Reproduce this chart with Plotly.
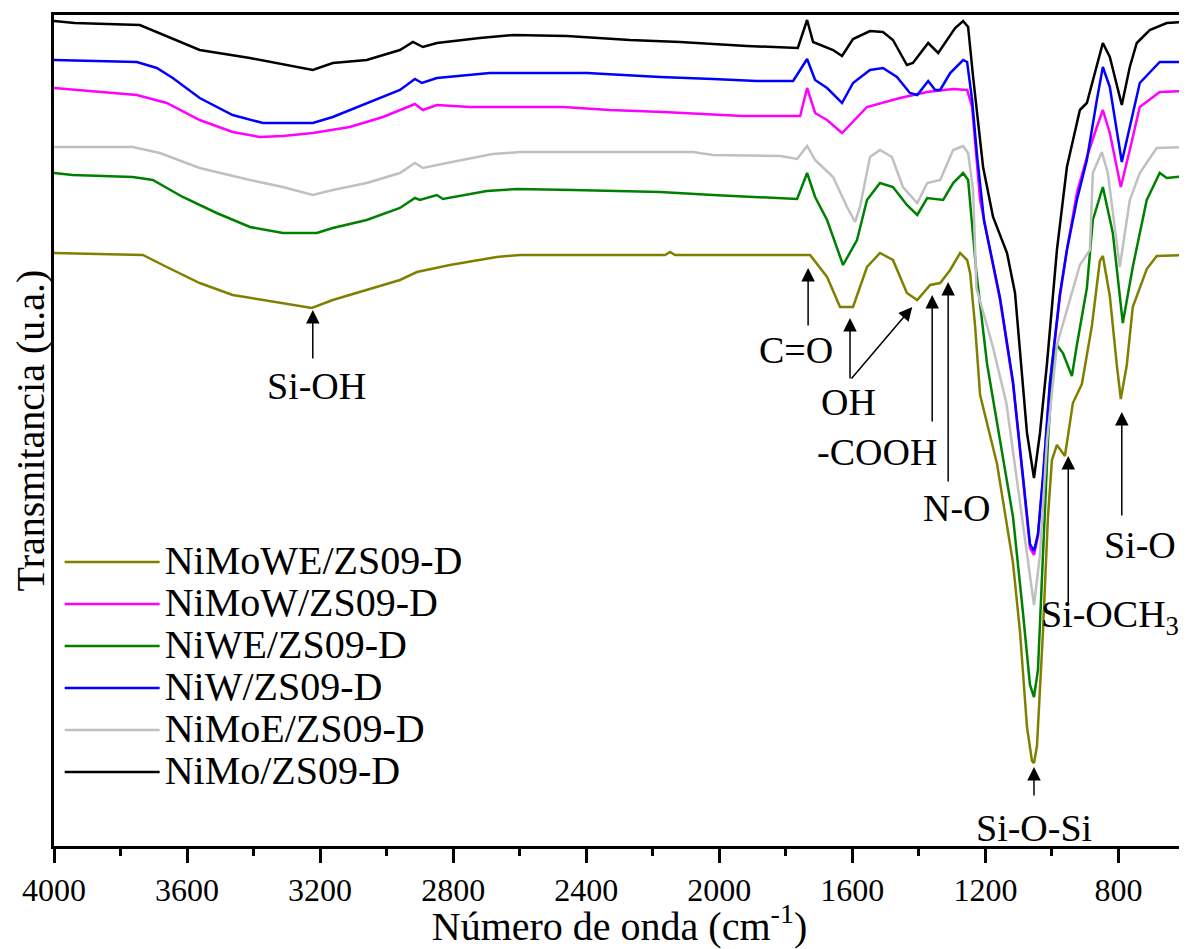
import plotly.graph_objects as go

# FTIR spectra, Transmitancia (u.a.) vs numero de onda (cm-1)
wn_nimowe = [4000, 3733, 3661, 3562, 3463, 3312, 3225, 3162, 3060, 2960, 2909, 2810, 2669, 2599, 2163, 2148, 2133, 1727,
             1676, 1637, 1598, 1556, 1517, 1478, 1436, 1405, 1366, 1336, 1306, 1276, 1255, 1246, 1231, 1216, 1165, 1117,
             1096, 1075, 1060, 1054, 1045, 1027, 1012, 1000, 985, 961, 937, 910, 880, 856, 847, 826, 805, 793, 775, 757,
             715, 685, 600]
t_nimowe = [593, 591, 579, 563, 551, 543, 538, 546, 556, 566, 574, 581, 589, 591, 591, 594, 591, 591,
            569, 539, 539, 579, 593, 586, 553, 546, 561, 563, 576, 593, 586, 573, 520, 451, 382, 283,
            214, 119, 85, 83, 100, 214, 329, 386, 401, 390, 443, 462, 520, 585, 590, 550, 481, 447, 481, 539,
            577, 590, 591]

wn_nimow = [4000, 3854, 3751, 3661, 3562, 3463, 3381, 3312, 3222, 3111, 3011, 2915, 2891, 2849, 2750, 2470, 2329, 2169,
            2037, 1929, 1757, 1736, 1712, 1676, 1631, 1586, 1556, 1457, 1375, 1297, 1255, 1240, 1216, 1156, 1117, 1087,
            1066, 1054, 1042, 1027, 1006, 976, 955, 925, 895, 865, 847, 826, 793, 766, 736, 676, 600]
t_nimow = [758, 754, 751, 743, 726, 714, 709, 710, 713, 719, 729, 742, 736, 741, 739, 739, 736, 734,
           732, 730, 730, 758, 733, 726, 713, 729, 739, 748, 754, 757, 756, 739, 646, 546, 462, 367,
           298, 291, 310, 367, 462, 550, 596, 653, 689, 719, 736, 713, 659, 696, 739, 754, 755]

wn_niwe = [4000, 3944, 3763, 3703, 3613, 3511, 3411, 3312, 3210, 3162, 3060, 2960, 2915, 2900, 2849, 2831, 2699, 2608,
           2440, 2178, 2019, 1766, 1736, 1712, 1676, 1628, 1586, 1556, 1517, 1478, 1436, 1405, 1375, 1327, 1297, 1267,
           1252, 1237, 1227, 1195, 1156, 1117, 1087, 1066, 1054, 1042, 1027, 1012, 997, 985, 967, 940, 925, 895, 877,
           847, 817, 787, 757, 715, 676, 655, 600]
t_niwe = [673, 671, 669, 666, 649, 633, 619, 613, 613, 618, 626, 638, 648, 646, 651, 647, 655, 657,
          656, 654, 651, 647, 673, 649, 626, 581, 606, 646, 663, 659, 641, 631, 648, 646, 663, 673,
          666, 613, 573, 482, 405, 329, 233, 161, 149, 176, 291, 405, 482, 501, 493, 470, 501, 558, 626,
          659, 613, 523, 579, 646, 673, 668, 670]

wn_niw = [4000, 3863, 3751, 3691, 3643, 3562, 3463, 3372, 3222, 3162, 3060, 2960, 2915, 2894, 2849, 2690, 2398, 2178,
          2019, 1887, 1778, 1736, 1712, 1676, 1631, 1598, 1547, 1508, 1466, 1427, 1405, 1372, 1351, 1336, 1306, 1267,
          1255, 1240, 1225, 1204, 1156, 1117, 1087, 1066, 1054, 1042, 1027, 1006, 976, 955, 925, 895, 865, 847, 826,
          790, 766, 736, 676, 600]
t_niw = [786, 785, 784, 778, 768, 748, 731, 723, 723, 729, 743, 756, 767, 763, 768, 773, 773, 769,
         767, 765, 765, 787, 766, 758, 743, 763, 776, 778, 769, 753, 751, 765, 756, 756, 773, 786,
         784, 746, 690, 625, 548, 464, 369, 302, 295, 312, 369, 464, 552, 596, 646, 686, 746, 779, 759,
         684, 719, 763, 784, 784]

wn_nimoe = [4000, 3763, 3682, 3562, 3411, 3312, 3222, 3162, 3060, 2960, 2915, 2891, 2819, 2681, 2599, 2079, 2019, 1817,
            1766, 1736, 1712, 1658, 1616, 1592, 1577, 1547, 1517, 1481, 1448, 1405, 1375, 1336, 1297, 1267, 1252, 1237,
            1227, 1179, 1137, 1089, 1054, 1036, 1015, 985, 916, 886, 877, 850, 832, 796, 766, 736, 685, 600]
t_nimoe = [699, 699, 693, 678, 666, 659, 651, 656, 663, 673, 683, 678, 683, 692, 694, 694, 691, 690,
           687, 700, 686, 669, 639, 624, 639, 689, 696, 689, 659, 643, 663, 666, 696, 700, 693, 656,
           558, 501, 443, 329, 241, 291, 405, 501, 581, 596, 673, 694, 673, 579, 646, 673, 698, 699]

wn_nimo = [4000, 3938, 3742, 3562, 3411, 3261, 3222, 3162, 3060, 2960, 2921, 2891, 2849, 2720, 2620, 2458, 2269, 2118,
           1917, 1764, 1736, 1718, 1658, 1631, 1598, 1547, 1508, 1478, 1436, 1418, 1372, 1342, 1315, 1291, 1267, 1252,
           1237, 1207, 1177, 1135, 1111, 1096, 1075, 1054, 1036, 1015, 985, 955, 916, 895, 862, 847, 826, 790, 766,
           745, 706, 655, 600]
t_nimo = [825, 823, 821, 796, 788, 778, 776, 783, 786, 796, 804, 799, 803, 808, 811, 810, 806, 804,
          800, 798, 826, 804, 796, 790, 807, 815, 814, 806, 781, 783, 803, 793, 806, 818, 825, 819,
          769, 679, 629, 593, 553, 495, 413, 368, 413, 482, 596, 679, 736, 743, 786, 803, 789, 741, 779,
          803, 816, 823, 824]

series = [
    ('NiMoWE/ZS09-D', wn_nimowe, t_nimowe, '#808000'),
    ('NiMoW/ZS09-D', wn_nimow, t_nimow, '#FF00FF'),
    ('NiWE/ZS09-D', wn_niwe, t_niwe, '#008000'),
    ('NiW/ZS09-D', wn_niw, t_niw, '#0000FF'),
    ('NiMoE/ZS09-D', wn_nimoe, t_nimoe, '#C0C0C0'),
    ('NiMo/ZS09-D', wn_nimo, t_nimo, '#000000'),
]

FONT = 'Liberation Serif'

fig = go.Figure()
for name, x, y, color in series:
    fig.add_trace(go.Scatter(x=x, y=y, mode='lines',
                             name='<span style="font-size:40px">%s</span>' % name,
                             line=dict(color=color, width=2.5)))

# band assignments: head x, head y, tail dx, tail dy
arrows = [
    (3222, 536, 0, 50),     # Si-OH
    (1733, 578, 0, 59),     # C=O
    (1607, 528, 0, 62),     # OH
    (1420, 539, -62, 73),   # OH
    (1360, 551, 0, 128),    # -COOH
    (1312, 564, 0, 201),    # N-O
    (1054, 79, 0, 30),      # Si-O-Si
    (951, 390, 0, 149),     # Si-OCH3
    (790, 434, 0, 105),     # Si-O
]
labels = [
    ('Si-OH', 3210, 460),
    ('C=O', 1769, 496),
    ('OH', 1613, 444),
    ('-COOH', 1526, 394),
    ('N-O', 1286, 338),
    ('Si-O-Si', 1054, 18),
    ('Si-OCH<sub>3</sub>', 825, 229),
    ('Si-O', 735, 301),
]

annotations = []
for hx, hy, dx, dy in arrows:
    annotations.append(dict(x=hx, y=hy, ax=dx, ay=dy, text='', showarrow=True,
                            arrowhead=2, arrowsize=1.8, arrowwidth=1.5, arrowcolor='black'))
for text, lx, ly in labels:
    annotations.append(dict(x=lx, y=ly, text=text, showarrow=False,
                            font=dict(family=FONT, size=38, color='black')))

# the page adds an 8 px body margin, so the figure is sized to fit the window
fig.update_layout(
    width=1179, height=941,
    margin=dict(l=46, r=2, t=7, b=103),
    plot_bgcolor='white', paper_bgcolor='white',
    font=dict(family=FONT, color='black'),
    showlegend=True,
    legend=dict(x=0.005, y=0.373, xanchor='left', yanchor='top',
                bgcolor='rgba(0,0,0,0)', font=dict(family=FONT, size=30, color='black'),
                itemwidth=95, tracegroupgap=0),
    annotations=annotations,
)
fig.update_xaxes(range=[4000, 600], tick0=0, dtick=400, ticks='outside', ticklen=14, tickwidth=2.5,
                 tickcolor='black', showline=True, linewidth=2.5, linecolor='black', mirror=True,
                 showgrid=False, zeroline=False, automargin=False,
                 tickfont=dict(family=FONT, size=32, color='black'),
                 minor=dict(dtick=200, ticks='outside', ticklen=7, tickwidth=2.5, tickcolor='black'),
                 title=dict(text='Número de onda (cm<sup>-1</sup>)', font=dict(family=FONT, size=40, color='black'),
                            standoff=4))
fig.update_yaxes(range=[0, 831], showticklabels=False, ticks='', showline=True, linewidth=2.5,
                 linecolor='black', mirror=True, showgrid=False, zeroline=False, automargin=False,
                 title=dict(text='Transmitancia (u.a.)', font=dict(family=FONT, size=40, color='black'),
                            standoff=0))

fig.write_html("out.html")
